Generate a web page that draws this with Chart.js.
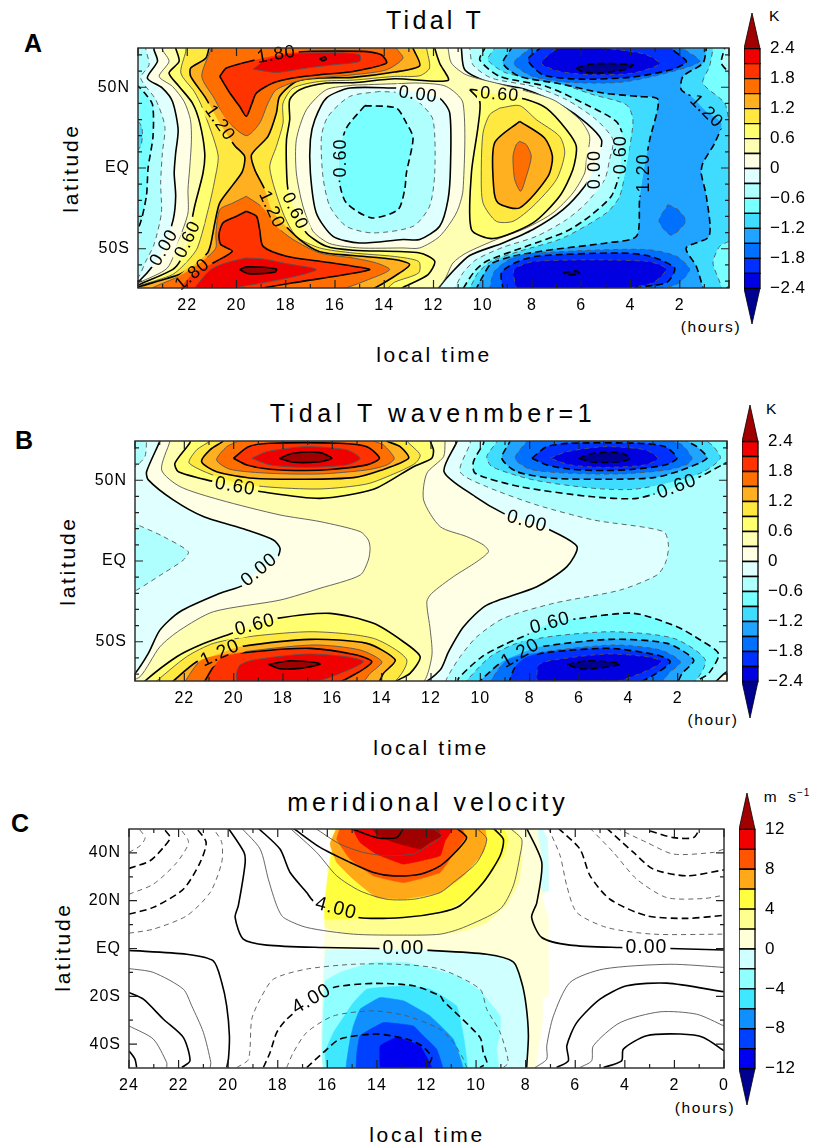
<!DOCTYPE html>
<html>
<head>
<meta charset="utf-8">
<title>Tidal T</title>
<script src="https://cdn.jsdelivr.net/npm/chart.js@4"></script>
<style>
body { margin: 0; background: #fff; width: 814px; height: 1148px; position: relative; overflow: hidden; font-family: "Liberation Sans", sans-serif; color: #000; }
canvas { position: absolute; }
.txt { position: absolute; transform: translate(-50%, -50%); white-space: nowrap; }
.title { font-size: 25px; letter-spacing: 3.3px; }
.axis { font-size: 21px; letter-spacing: 2.7px; }
.lat { transform: translate(-50%, -50%) rotate(-90deg); }
.tag { font-size: 25px; font-weight: bold; }
.unit { font-size: 15.5px; letter-spacing: 1.6px; }
sup { font-size: 10px; line-height: 0; }
</style>
</head>
<body>
<div class="txt tag" style="left:33px;top:43px">A</div>
<div class="txt tag" style="left:24px;top:440px">B</div>
<div class="txt tag" style="left:20px;top:823px">C</div>
<div class="txt title" style="left:435px;top:20px">Tidal T</div>
<div class="txt title" style="left:433px;top:413px;letter-spacing:4.6px">Tidal T wavenmber=1</div>
<div class="txt title" style="left:428px;top:802px;letter-spacing:4px">meridional velocity</div>
<div class="txt axis" style="left:434px;top:355px">local time</div>
<div class="txt axis" style="left:431px;top:748px">local time</div>
<div class="txt axis" style="left:427px;top:1135px">local time</div>
<div class="txt axis lat" style="left:71px;top:168px">latitude</div>
<div class="txt axis lat" style="left:68px;top:561px">latitude</div>
<div class="txt axis lat" style="left:63px;top:947px">latitude</div>
<div class="txt unit" style="left:711px;top:327px">(hours)</div>
<div class="txt unit" style="left:713px;top:720px">(hour)</div>
<div class="txt unit" style="left:705px;top:1108px">(hours)</div>
<div class="txt unit" style="left:775px;top:16px">K</div>
<div class="txt unit" style="left:772px;top:409px">K</div>
<div class="txt unit" style="left:787px;top:797px;letter-spacing:1px">m&nbsp;&nbsp;s<sup>−1</sup></div>
<canvas id="panelA"></canvas>
<canvas id="panelB"></canvas>
<canvas id="panelC"></canvas>
<canvas id="barA"></canvas>
<canvas id="barB"></canvas>
<canvas id="barC"></canvas>
<script>
// contours, every point is [local time (h), latitude (deg)]
// points past the frame (lat +-76, t -0.5 or 24.5) only close a region and get clipped

const tLevels = [-2.4,-2.1,-1.8,-1.5,-1.2,-0.9,-0.6,-0.3,0,0.3,0.6,0.9,1.2,1.5,1.8,2.1,2.4];
const tColors = ['#000090','#0000e0','#0030ff','#0070ff','#20a4ff','#40dcff','#78ffff','#b0ffff','#e0ffff','#ffffe6','#ffffb4','#ffff70','#ffe840','#ffb020','#ff6e00','#ff3300','#f00000','#a00000'];
const tBarLabels = {'2.4':'2.4','1.8':'1.8','1.2':'1.2','0.6':'0.6','0':'0','-0.6':'−0.6','-1.2':'−1.2','-1.8':'−1.8','-2.4':'−2.4'};
const vLevels = [-12,-10,-8,-6,-4,-2,0,2,4,6,8,10,12];
const vColors = ['#000090','#0000f0','#0040ff','#1090ff','#40e8ff','#90ffff','#d0ffff','#ffffd8','#ffff90','#ffff40','#ffa818','#ff5500','#f00000','#a00000'];
const vBarLabels = {'12':'12','8':'8','4':'4','0':'0','-4':'−4','-8':'−8','-12':'−12'};

const hoursAB = [22,20,18,16,14,12,10,8,6,4,2];
const hoursC = [24,22,20,18,16,14,12,10,8,6,4,2,0];
const latTicksAB = [50,0,-50];
const latNamesAB = {'50':'50N','0':'EQ','-50':'50S'};
const latTicksC = [40,20,0,-20,-40];
const latNamesC = {'40':'40N','20':'20N','0':'EQ','-20':'20S','-40':'40S'};

// panel A, warm side
const aZero = [[23.35,76],[23.35,73.2],[23.21,66],[23.62,55.7],[23.01,49.5],[22.6,41.2],[22.37,23.7],[22.47,9.3],[22.53,-3.1],[22.47,-17.5],[22.57,-32],[22.94,-49.5],[23.35,-59.8],[23.96,-70.1],[24.5,-76],[11.82,-76],[11.82,-74.8],[11.27,-64.9],[10.53,-54.2],[9.18,-46.4],[7.96,-38.1],[6.74,-25.8],[5.86,-11.3],[5.46,0],[5.25,9.3],[5.18,17.5],[5.79,27.8],[6.74,38.1],[8.23,48.5],[9.85,53.6],[10.73,60.8],[10.87,74.3],[10.87,76]];
const aP03 = [[23.01,76],[23.01,73.2],[22.74,66],[23.14,56.7],[22.6,50.5],[22.13,41.2],[21.87,29.9],[21.83,17.5],[21.9,0],[21.97,-13.4],[21.97,-27.8],[22.33,-44.3],[22.81,-61.9],[23.96,-71.1],[24.5,-76],[12.02,-76],[11.55,-69.1],[11.21,-58.8],[10.67,-52.6],[9.45,-44.3],[8.23,-37.1],[7.15,-27.8],[6.34,-15.5],[5.86,-3.1],[5.79,5.2],[5.66,19.6],[6.06,29.9],[7.15,42.3],[9.18,51.5],[10.67,57.7],[11.27,64.9],[11.41,74.3],[11.41,76]];
const aHole03 = [[15.27,51.3],[16.35,48.5],[17.16,36.1],[17.57,17.5],[17.57,-3.1],[17.3,-23.7],[16.89,-39.2],[16.21,-46.8],[15,-49.5],[13.24,-49.5],[12.56,-49.5],[11.75,-42.3],[11.07,-27.8],[10.8,-13.4],[10.8,40.2],[11.48,50.5],[12.56,52.6],[13.51,52.2]];
const aP06 = [[22.47,76],[22.47,74.2],[22.33,66],[22.74,58.8],[22.33,50.5],[21.79,40.2],[21.49,27.8],[21.29,9.3],[21.36,-3.1],[21.7,-23.7],[21.99,-45.4],[22.26,-56.7],[22.6,-62.9],[23.89,-71.8],[24.5,-76],[13.51,-76],[13.17,-73.4],[12.22,-66],[11.95,-57.7],[12.56,-52.6],[15.27,-50.9],[16.35,-48.5],[17.16,-40.2],[17.64,-26.8],[17.91,-13.4],[17.97,0],[17.97,17.5],[17.84,29.9],[17.84,42.3],[17.43,48.5],[16.35,52.6],[15.27,52.8],[13.58,55.3],[11.41,54.2],[11.75,64.9],[11.95,74.2],[11.95,76]];
const aP06Blob = [[10.53,48.5],[10.12,41.2],[10.19,25.8],[10.46,-3.1],[10.46,-38.1],[9.58,-43.7],[7.96,-34],[6.88,-17.5],[6.34,-1],[6.2,13.4],[6.6,23.7],[7.42,37.1],[8.3,42.7],[9.31,45.4],[10.33,48.5]];
const aP09 = [[22.06,76],[22.06,72.2],[22.26,58.8],[21.72,47.4],[21.38,37.1],[20.75,8.2],[20.88,-7.2],[21.15,-25.8],[21.59,-49.5],[22.06,-58.8],[22.6,-66],[23.89,-72.6],[24.5,-76],[14.05,-76],[13.58,-70.7],[12.6,-64.9],[12.6,-57.9],[13.58,-54.8],[15.27,-52.6],[16.62,-49.5],[17.57,-42.3],[18.11,-27.8],[18.65,0],[18.38,13.4],[18.11,27.8],[18.11,40.2],[17.7,49.5],[16.62,53.6],[15.27,54.4],[13.58,56.7],[12.56,57.1],[12.16,61.9],[12.28,74.2],[12.28,76]];
const aP09Blob = [[9.31,37.1],[8.5,38.6],[7.82,29.9],[6.88,19.6],[6.67,9.3],[7.01,-7.2],[7.96,-23.7],[8.77,-33],[9.45,-33],[9.99,-21.6],[10.06,-3.1],[9.99,21.6],[9.72,33]];
const aP12 = [[21.09,76],[21.25,68],[21.86,61.9],[21.86,56.7],[21.25,43.3],[20.68,27.8],[20.07,13.8],[19.67,7.2],[19.76,-2.1],[20.14,-10.3],[20.68,-21.6],[20.88,-34],[21.05,-47.4],[21.18,-52.6],[21.79,-60.8],[22.33,-66],[23.89,-73.2],[24.5,-76],[14.73,-76],[13.58,-67],[12.97,-59.8],[13.58,-56.7],[15.27,-54.2],[16.62,-51.8],[17.43,-44.3],[18.25,-32],[18.58,-25.8],[18.85,-13.4],[19.26,-1],[19.39,8.2],[18.72,19.6],[18.38,34],[18.25,44.3],[17.57,53.6],[16.62,55.7],[15.27,56.1],[13.58,59.4],[12.56,63.3],[12.83,74.2],[12.83,76]];
const aP12Blob = [[8.5,28.9],[7.49,18.6],[7.17,7.2],[7.35,-5.2],[8.5,-24.7],[9.38,-21.6],[9.56,-11.3],[9.52,15.5]];
const aP15Top = [[21.05,76],[21.05,73.2],[21.41,56.7],[20.91,43.3],[20.41,29.9],[19.6,20],[19.06,27.8],[18.72,40.2],[18.38,48.5],[17.3,54.6],[15.27,57.7],[13.91,60.8],[13.24,68],[13.51,74.2],[13.51,76]];
const aP15Bottom = [[19.6,-17.5],[20.14,-21.6],[20.68,-25.8],[20.84,-41.2],[20.84,-49.5],[21.38,-57.7],[22.33,-67],[23.41,-74.2],[23.41,-76],[16.08,-76],[14.46,-68],[13.78,-62.9],[14.32,-58.8],[15.27,-55.7],[16.62,-52.6],[17.7,-44.3],[18.38,-36.1],[18.92,-24.7]];
const aP15Blob = [[8.5,16.5],[8.23,14.4],[8.03,7.2],[8.23,-5.2],[8.46,-14.4],[8.7,-7.2],[8.77,7.2],[8.64,14.4]];
const aP18Top = [[20.68,56.7],[20.41,61.9],[19.33,66.6],[17.7,71.5],[14.86,72.2],[14.12,70.1],[13.91,64.9],[15.27,59.8],[16.62,57.7],[17.7,55.7],[18.52,52.6],[19.19,46.4],[19.39,39.2],[19.6,32],[19.87,38.1],[20.27,46.4]];
const aP18Bottom = [[19.6,-26.8],[19.19,-29.9],[19.06,-38.1],[18.92,-48.5],[17.97,-54.6],[16.62,-57.7],[15.27,-60.8],[14.59,-62.9],[15.81,-66.6],[17.7,-71.1],[19.06,-74.8],[19.06,-76],[22.3,-76],[22.3,-74.8],[22.17,-72.2],[21.79,-66],[20.82,-57.7],[20.17,-51.5],[20.64,-47.4],[20.71,-41.2],[20.55,-34],[20,-29.9]];
const aP21Top = [[19.33,61.2],[18.38,59.2],[17.16,61.9],[16.08,63.9],[15,66],[15,70.1],[16.08,71.5],[17.7,70.7],[18.79,67]];
const aP21Bottom = [[19.63,-55.7],[18.92,-56.3],[17.97,-59.2],[16.76,-62.9],[17.7,-67.4],[18.92,-71.1],[20,-74.2],[20,-76],[21.72,-76],[21.72,-74.8],[21.05,-62.9],[20.44,-58.8]];
const aP24Top = [[16.62,67.6],[16.42,68.7],[16.35,67.4],[16.51,66.4]];
const aP24Bottom = [[19.87,-62.9],[19.6,-61.2],[18.38,-62.5],[18.45,-64.5],[19.53,-65.4]];

// panel A, cold side
const aHole0 = [[13.51,49.5],[15.4,49.5],[16.35,43.3],[16.82,29.9],[17,17.5],[17,-3.1],[16.76,-27.8],[16.08,-42.3],[15,-46.4],[13.24,-44.3],[12.56,-44.3],[11.75,-36.1],[11.41,-19.6],[11.31,1],[11.34,34],[11.75,43.3],[12.56,46.4]];
const aHoleM03 = [[14.19,47.4],[15.4,44.3],[16.28,32],[16.55,19.6],[16.49,-5.2],[16.21,-23.7],[15.54,-36.1],[14.46,-40.2],[12.83,-36.1],[12.16,-23.7],[11.95,-3.1],[12.02,29.9],[12.56,40.2],[13.37,46.4]];
const aHoleM06 = [[14.79,38.6],[13.51,37.1],[13.1,27.8],[12.83,18.6],[13.1,-3.1],[13.17,-13.4],[13.44,-25.8],[14.52,-30.9],[15.54,-21.6],[15.81,-9.3],[15.81,9.3],[15.54,24.7]];
const aM03 = [[10.53,76],[10.53,74.2],[10.4,63.9],[9.65,55.7],[7.96,50.5],[6.6,42.3],[5.39,29.9],[4.71,17.5],[4.85,5.2],[5.05,-7.2],[5.79,-21.6],[6.6,-32],[7.82,-42.3],[9.18,-49.1],[10.26,-56.7],[10.8,-64.9],[11.14,-74.8],[11.14,-76],[-0.5,-76],[-0.5,76]];
const aM06 = [[9.92,76],[9.92,74.2],[10.12,67],[9.31,56.7],[7.42,50.5],[5.79,39.2],[4.58,28.9],[4.31,19.6],[4.37,8.2],[4.44,-3.1],[4.78,-17.5],[5.66,-29.9],[6.6,-39.2],[8.23,-48.5],[9.85,-57.7],[10.33,-63.9],[10.8,-74.8],[10.8,-76],[0.18,-76],[0.18,-74.8],[-0.5,-70],[-0.5,0],[-0.09,56.7],[0.31,64.9],[0.18,74.2],[0.18,76]];
const aM09 = [[9.52,76],[9.52,74.2],[9.79,67],[9.04,58.8],[7.15,53.6],[5.52,45.4],[4.17,39.2],[3.9,29.9],[4.1,7.2],[4.44,-17.5],[4.98,-27.8],[6.74,-43.3],[8.5,-51.5],[9.65,-57.7],[10.19,-64.9],[10.53,-74.8],[10.53,-76],[0.38,-76],[0.65,-58.8],[0.38,-48.5],[-0.09,-44.3],[-0.5,-30],[-0.5,30],[-0.09,25.8],[0.18,40.2],[1.06,52.6],[0.79,62.9],[0.65,74.2],[0.65,76]];
const aM12 = [[8.84,76],[8.84,74.2],[9.18,64.9],[8.5,56.7],[6.88,52.2],[5.12,46.4],[3.7,44.3],[2.88,42.3],[3.22,17.5],[3.47,-3.1],[3.63,-19.6],[3.76,-42.3],[4.98,-46.4],[7.15,-50.5],[8.77,-54.6],[9.65,-59.2],[9.92,-64.9],[10.26,-74.8],[10.26,-76],[1.06,-76],[1.06,-74.2],[1.33,-60.8],[1.74,-49.5],[0.81,-42.3],[0.92,-17.5],[1.13,-3.1],[1.06,3.1],[0.58,15.5],[0.31,27.8],[0.92,35],[1.53,44.3],[1.94,48.5],[1.87,56.7],[1.06,64.9],[0.92,74.2],[0.92,76]];
const aM15Top = [[8.09,76],[8.09,74.2],[8.74,64.9],[7.96,56.7],[6.47,53],[4.44,53],[2.82,57.7],[1.19,66],[1.87,74.2],[1.87,76]];
const aM18Top = [[7.69,76],[7.69,74.2],[8.16,67],[7.55,57.7],[6.06,55],[3.9,56.3],[2.28,61.2],[1.73,66],[2.28,73.2],[2.28,76]];
const aM21Top = [[6.74,76],[7.15,72.2],[7.62,64.9],[6.88,59.8],[5.52,57.7],[3.9,58.8],[2.82,64.5],[3.36,70.1],[4.44,73.2],[4.98,74.2],[4.98,76]];
const aM24Top = [[6.2,61.9],[5.52,64.5],[3.9,63.9],[4.17,61.2],[5.25,58.8],[5.93,59.4]];
const aM15Bottom = [[9.72,-76],[9.72,-74.8],[9.52,-63.9],[8.64,-54.6],[6.47,-51.5],[3.36,-50.5],[2.14,-54.6],[1.6,-62.9],[2.14,-72.2],[3.09,-74.8],[3.09,-76]];
const aM18Bottom = [[9.18,-76],[9.18,-74.8],[9.24,-64.9],[8.7,-58.8],[7.82,-54.6],[4.44,-52.6],[3.22,-54.6],[2.21,-61.9],[2.55,-71.1],[4.44,-74.8],[4.44,-76]];
const aM21Bottom = [[8.64,-76],[8.64,-74.8],[8.73,-62.9],[7.82,-57.7],[3.36,-57.7],[2.55,-62.5],[3.09,-71.1],[4.17,-74.8],[4.17,-76]];
const aM24Bottom = [[6.74,-64.9],[6.2,-63.7],[6.07,-65.6],[6.54,-66.2]];
const aM15Patch = [[2.48,-22.7],[2.07,-25.8],[1.76,-33],[2.34,-41.6],[2.84,-33]];
const aM03Left = [[23.68,76],[23.68,73.2],[23.55,63.9],[23.89,55.7],[23.28,42.3],[22.91,25.8],[23.01,9.3],[23.08,-9.3],[23.05,-27.8],[23.35,-47.4],[23.68,-57.7],[23.96,-67],[24.5,-76],[24.5,76]];
const aM06Left = [[24.5,55],[24.06,51.5],[23.73,46.4],[23.41,39.2],[23.39,19.6],[23.59,0],[23.66,-17.5],[23.96,-36.1],[24.5,-45]];
const aM09Left = [[24.5,37],[23.86,25.8],[23.9,13.4],[24.5,5]];

// panel B
const bM03 = [[10.41,76],[10.41,72.9],[10.82,55.3],[9.74,46],[7.71,34.7],[5.41,25.4],[2.57,18.2],[2.37,8.9],[2.5,-1.4],[2.84,-8.7],[4.33,-18],[7.03,-26.2],[9.06,-35.5],[10.14,-46.9],[10.82,-59.3],[11.36,-72.7],[11.36,-76],[-0.5,-76],[-0.5,76]];
const bM03Left = [[24.5,26],[23.73,21.3],[22.85,15.1],[21.84,5.8],[22.04,0.6],[22.85,-7.6],[23.93,-18],[24.5,-22]];
const bM03Corner = [[24.5,57],[24,58.4],[23.6,64.6],[23.53,74.3],[23.53,76],[24.5,76]];
const bM06Top = [[9.87,76],[9.87,72.9],[10.28,61.5],[10.21,54.3],[8.38,46],[5.54,39.9],[3.65,38.8],[2.1,46],[1.08,52.3],[0.07,60.5],[-0.5,64],[-0.5,76]];
const bM09Top = [[9.33,76],[9.33,73.9],[9.74,64.6],[9.53,58.4],[7.84,50.2],[5.41,45],[3.79,44.4],[2.16,49.2],[0.95,55.3],[0.27,63.6],[0.54,70.8],[0.81,74.3],[0.81,76]];
const bM12Top = [[8.79,76],[8.79,74.3],[9.13,63.6],[8.52,55.3],[7.03,51.2],[4.94,50.6],[2.97,51.6],[1.89,56],[0.81,63.6],[1.22,70.8],[1.62,74.3],[1.62,76]];
const bM15Top = [[8.11,76],[8.11,74.3],[8.59,63.6],[7.98,56.8],[6.35,54.3],[4.33,53.9],[2.43,56.4],[1.62,59.9],[1.42,63.6],[1.82,71.9],[2.23,74.3],[2.23,76]];
const bM18Top = [[7.91,63.6],[7.3,70.8],[6.35,72.9],[3.65,72.9],[2.5,70.8],[2.03,63.6],[2.5,59.5],[3.79,56.8],[4.94,56],[6.35,56.8],[7.3,59.5]];
const bM21Top = [[7.17,63.6],[6.49,67.7],[4.94,70.8],[3.31,68.8],[2.81,63.6],[3.31,59.5],[4.94,58],[6.35,59.5]];
const bM24Top = [[6.02,63.6],[5.41,66.7],[4.33,67.1],[3.92,63.6],[4.33,61.5],[5.41,61.1]];
const bM06Bottom = [[10.89,-76],[10.89,-72.7],[9.94,-59.3],[9.06,-52],[7.98,-44.8],[7.17,-38.6],[5.95,-35.5],[3.79,-32.4],[2.03,-40.7],[1.08,-48.9],[0.34,-57.5],[0.74,-69.6],[1.22,-74.3],[1.22,-76]];
const bM09Bottom = [[10.68,-76],[9.6,-59.3],[8.52,-51],[7.03,-46.5],[4.6,-43.8],[2.16,-47.9],[0.88,-61.3],[1.49,-76]];
const bM12Bottom = [[10.14,-76],[9.13,-62.4],[8.38,-57.2],[7.57,-53.1],[4.73,-48.5],[2.43,-51],[1.35,-61.3],[1.82,-69.6],[2.1,-76]];
const bM15Bottom = [[9.67,-76],[8.92,-61.3],[7.71,-56.8],[4.6,-52],[2.7,-55.1],[1.89,-62.4],[2.37,-69.6],[2.77,-76]];
const bM18Bottom = [[8.86,-76],[8.59,-65.5],[8.11,-59.3],[7.03,-56.2],[4.73,-54.1],[2.84,-58.2],[2.3,-62.4],[2.97,-70.6],[3.79,-76]];
const bM21Bottom = [[7.71,-76],[7.64,-64.4],[7.03,-61.3],[4.87,-57.6],[3.24,-59.3],[2.64,-62.4],[3.51,-69.6],[4.87,-76]];
const bM24Bottom = [[6.49,-64],[5.68,-61.8],[4.46,-63],[4.33,-64],[5.27,-66.5],[5.95,-66.7]];
const bZero = [[22.99,76],[22.99,74.3],[23.53,55.3],[23.46,50.2],[22.45,37.8],[21.23,27.5],[19.47,19.2],[18.39,13],[18.12,7.8],[18.25,1.7],[18.96,-5.6],[19.61,-14.9],[20.55,-20],[22.18,-31.4],[22.99,-42.8],[23.46,-57.2],[24,-69.6],[24.5,-76],[12.44,-76],[11.63,-67.5],[11.29,-56.2],[10.68,-40.7],[9.74,-27.3],[7.71,-15.9],[6.49,-3.5],[6.08,8.9],[7.17,19.2],[8.11,24.4],[9.06,29.5],[10.21,39.9],[11.47,55.3],[10.95,73.9],[10.95,76]];
const bP03 = [[22.58,76],[22.58,74.3],[22.92,56.4],[22.18,46.1],[20.55,37.8],[18.12,28.5],[16.5,24.4],[14.87,18.2],[14.54,13],[14.47,7.8],[14.54,0.6],[14.87,-8.7],[16.5,-16.9],[18.12,-24.2],[20.82,-31.4],[22.18,-42.8],[22.99,-53.1],[23.8,-71.7],[24.5,-76],[12.44,-76],[11.97,-59.3],[12.03,-42.8],[12.17,-25.2],[11.97,-20],[11.09,-9.7],[10.14,-0.4],[9.67,5.8],[9.87,9.9],[10.55,15.1],[11.63,21.3],[12.3,37.8],[12.17,54.3],[11.49,64.6],[11.43,73.9],[11.43,76]];
const bP06Top = [[21.77,76],[21.77,73.3],[22.38,60.5],[22.24,55.3],[20.82,49.2],[19.94,46.1],[18.93,43],[16.5,38.8],[14.33,44.4],[12.71,58.4],[11.97,63.6],[11.9,68.8],[12.03,74.3],[12.03,76]];
const bP09Top = [[20.96,76],[20.96,74.3],[21.5,68.8],[21.8,60.5],[20.28,50.2],[18.8,46.1],[16.5,44.6],[14.6,47.7],[13.39,54.7],[12.64,60.5],[12.44,65.7],[12.98,74.3],[12.98,76]];
const bP12Top = [[20.42,76],[20.42,74.3],[20.96,68.8],[21.3,61.5],[20.69,55.3],[19.2,51.2],[17.1,50.6],[15.14,51.6],[14.06,56],[12.91,63.6],[13.25,70.8],[13.79,74.3],[13.79,76]];
const bP15Top = [[19.81,76],[19.81,74.3],[20.28,70.8],[20.69,62.6],[20.15,56.8],[18.53,54.3],[16.5,53.9],[14.6,56.4],[13.79,59.5],[13.49,63.6],[13.93,71.9],[14.33,74.3],[14.33,76]];
const bP18Top = [[20.01,63.6],[19.4,70.8],[18.53,72.9],[15.69,72.9],[14.6,70.8],[14.09,63.6],[14.6,59.5],[15.96,56.8],[17.1,56],[18.53,56.8],[19.47,59.5]];
const bP21Top = [[19.27,63.6],[18.66,67.7],[17.1,70.8],[15.42,68.8],[14.87,63.6],[15.42,59.5],[17.1,58],[18.53,59.5]];
const bP24Top = [[18.15,63.6],[17.58,66.7],[16.5,67.1],[16.02,63.6],[16.5,61.5],[17.58,61.1]];
const bP06Bottom = [[23.6,-76],[23.6,-74.3],[22.31,-59.3],[21.36,-52],[20.15,-45.2],[19.13,-39.7],[18.25,-35.5],[16.09,-32.4],[14.33,-38.6],[13.12,-50],[12.44,-59.3],[12.85,-69.6],[13.39,-74.3],[13.39,-76]];
const bP09Bottom = [[23.26,-76],[21.91,-59.3],[20.82,-51],[19.2,-46.5],[16.77,-43.8],[14.33,-47.9],[12.98,-61.3],[13.66,-76]];
const bP12Bottom = [[22.58,-76],[21.5,-62.4],[20.55,-57.2],[19.74,-53.1],[16.9,-48.5],[14.6,-51],[13.45,-61.3],[13.93,-69.6],[14.2,-76]];
const bP15Bottom = [[22.04,-76],[21.3,-61.3],[19.88,-56.8],[16.77,-52],[14.87,-55.1],[13.99,-62.4],[14.47,-69.6],[14.87,-76]];
const bP18Bottom = [[21.23,-76],[20.82,-65.5],[20.42,-59.3],[19.2,-56.2],[16.9,-54.1],[15.01,-58.2],[14.4,-62.4],[15.14,-70.6],[15.96,-76]];
const bP21Bottom = [[19.88,-76],[19.88,-69.6],[19.74,-64.4],[19.2,-61.3],[17.04,-57.6],[15.42,-59.3],[14.74,-62.4],[15.69,-69.6],[17.04,-76]];
const bP24Bottom = [[18.59,-64],[17.71,-61.8],[16.63,-63],[16.5,-64],[17.31,-66.5],[18.12,-66.7]];
const bCornerWarm = [[0.54,-76],[0,-68.6],[-0.5,-68],[-0.5,-76]];

// panel C shading (only exists between about 16h and 7h)
const cShadeCream = [[15.89,52],[15.89,43],[16.09,8],[16.09,-52],[7.69,-52],[7.49,-42.1],[7.31,-29.6],[7.31,-20.5],[7.08,-19.8],[7.08,0.4],[7.08,12.3],[7.35,22],[7.08,24.8],[7.12,45.7],[7.42,52]];
const cShadeCyanBit = [[7.42,52],[7.12,45.7],[7.08,24.1],[7.35,24.1],[7.35,38.8],[7.49,47.1],[7.49,52]];
const cShadeM0 = [[16.09,-0.6],[12.26,-0.6],[9.57,-2.4],[8.5,-5.6],[8.16,-14.2],[7.98,-24],[7.89,-36.5],[7.96,-49.8],[7.96,-52],[16.09,-52]];
const cShadeP2 = [[15.62,52],[15.62,49.9],[15.82,41.6],[15.96,33.2],[16.09,19.2],[16.09,8.8],[14.95,6],[12.93,5.6],[11.45,6],[10.51,7.4],[9.57,10.9],[8.76,18.5],[8.29,27.6],[8.16,36],[8.16,45.7],[8.63,52]];
const cShadeP4 = [[15.69,52],[15.69,47.8],[15.89,36],[16.09,20.6],[16.09,12.3],[14.95,12.7],[12.93,13],[11.45,15.1],[10.51,19.9],[9.57,29],[8.9,38.8],[8.7,45.7],[9.03,52]];
const cShadeP6 = [[15.55,52],[15.89,43.7],[15.62,36],[14.95,29],[14.01,21.3],[12.93,20.6],[11.45,23.4],[10.51,30.4],[9.71,40.2],[9.57,45.7],[9.71,52]];
const cShadeP8 = [[15.42,52],[15.62,45.7],[15.08,37.4],[14.14,30.4],[12.93,27.6],[11.45,31.8],[10.78,41.6],[10.44,46.4],[10.65,52]];
const cShadeP10 = [[15.08,52],[14.68,44.4],[14.01,39.5],[12.93,35.3],[11.45,38.8],[11.25,45],[10.85,52]];
const cShadeP12 = [[14.34,52],[13.94,47.1],[13.2,44.1],[12.26,41.6],[11.86,44.4],[11.39,47.1],[11.72,52]];
const cShadeM2 = [[16.09,-13.5],[15.49,-10],[14.14,-5.9],[12.8,-5.9],[12.26,-7.3],[10.78,-11.4],[9.84,-17.7],[9.03,-28.2],[9.03,-35.1],[9.17,-42.1],[9.1,-52],[16.09,-52]];
const cShadeM4 = [[15.22,-26.8],[14.95,-22.6],[14.41,-17],[12.8,-15.6],[11.86,-17],[10.78,-24],[10.51,-36.5],[10.38,-52],[15.96,-52],[16.09,-43.5],[15.75,-35.1]];
const cShadeM6 = [[15.08,-37.9],[14.95,-32.4],[14.68,-25.4],[13.87,-20.5],[12.93,-21.9],[11.86,-28.2],[10.92,-37.9],[10.51,-52],[15.22,-52]];
const cShadeM8 = [[14.81,-43.5],[14.68,-36.5],[13.74,-31],[12.53,-32.4],[12.13,-36.5],[11.59,-42.1],[11.32,-52],[14.81,-52]];
const cShadeM10 = [[13.87,-52],[13.87,-40.7],[13.2,-37.2],[12.26,-40.7],[11.72,-52]];

// panel C contour lines
const cZeroA = [[19.99,50.3],[19.36,40.2],[19.32,35.3],[19.59,17.9],[19.72,13],[19.39,3.9],[18.44,1.4],[16.16,0.4],[13.94,0],[11.86,-0.8],[9.57,-2.4],[8.5,-5.6],[8.16,-14.2],[7.98,-24],[7.89,-36.5],[7.96,-49.8]];
const cZeroB = [[24,-0.8],[21.67,-2.4],[20.6,-5.2],[20.26,-14.2],[20.06,-24],[19.95,-36.5],[19.99,-46.3],[20.06,-49.8]];
const cZeroC = [[7.96,50.3],[7.35,36],[7.55,19.2],[7.76,13],[7.35,4.6],[6.21,1.4],[4.19,0.4],[2.18,0],[0,-0.6]];
const cPos2 = [[19.45,50.3],[18.71,41.6],[18.38,29],[18.04,17.9],[17.77,13],[16.83,8.8],[14.95,6],[12.93,5.6],[11.45,6],[10.51,8.8],[9.03,16.5],[8.5,26.2],[8.23,38.8],[8.16,45.7],[8.63,50.3]];
const cPos4 = [[18.78,50.3],[17.91,41.6],[17.5,31.8],[16.83,23.4],[16.56,19.9],[15.65,16.7],[14.75,13],[12.93,13],[11.45,15.1],[10.65,17.9],[9.71,27.6],[9.03,38.8],[8.9,45.7],[9.3,50.3]];
const cPos6 = [[17.5,50.3],[16.43,40.2],[15.62,30.4],[14.68,24.1],[13.6,20.6],[12.53,20.6],[11.45,23.4],[10.92,27.6],[9.97,36],[9.57,45.7],[9.97,50.3]];
const cPos8 = [[17.37,50.3],[16.29,42.3],[15.08,36],[14.14,31.8],[13.33,30.4],[12.26,31.1],[11.45,34.6],[10.78,40.9],[10.38,46.4],[10.78,50.3]];
const cPos10 = [[16.49,50.3],[15.49,43.7],[14.54,40.2],[13.6,38.8],[12.53,39.5],[12.26,40.9],[11.39,47.1],[11.72,50.3]];
const cPos12 = [[15.08,50.3],[14.01,46.4],[13.2,46.4],[12.93,50.3]];
const cNeg2 = [[19.65,-49.8],[19.18,-46.3],[19.05,-29.6],[18.71,-21.2],[18.17,-12.8],[16.83,-8.6],[14.95,-6.6],[13.2,-6.6],[11.45,-8.6],[9.84,-17],[9.57,-25.4],[9.03,-35.1],[8.7,-47.7],[8.9,-49.8]];
const cNeg4 = [[18.58,-49.8],[18.31,-43.5],[18.04,-35.1],[17.64,-29.6],[16.63,-21.2],[15.75,-16.3],[14.14,-14.6],[12.53,-15.6],[11.45,-19.8],[11.32,-21.9],[9.84,-37.2],[9.71,-43.5],[9.57,-47.7],[9.84,-49.8]];
const cNeg6 = [[17.64,-49.8],[17.37,-43.5],[16.83,-35.1],[15.75,-28.2],[14.14,-26.1],[12.8,-28.2],[11.45,-33.8],[10.92,-39.3],[10.51,-46.3],[10.38,-49.8]];
const cNeg8 = [[16.83,-49.8],[16.16,-43.5],[15.49,-37.9],[14.01,-35.8],[12.8,-37.9],[12.19,-40.7],[11.79,-45.6],[11.99,-49.8]];
const cLowPos2 = [[7.62,-49.8],[7.15,-46.3],[7.15,-40.7],[6.88,-28.2],[6.21,-14.2],[4.86,-8.6],[2.18,-6.6],[0,-7.9]];
const cLowPos4 = [[6.75,-49.8],[6.28,-47],[6.34,-40.7],[5.94,-31],[5,-21.2],[3.92,-15.6],[2.31,-14.5],[0,-18.1]];
const cLowPos6 = [[5.81,-49.8],[5.34,-47],[5.27,-40.7],[4.19,-31],[2.58,-26.5],[1.1,-27.5],[0,-32.4]];
const cLowPos8 = [[4.86,-49.8],[4.13,-47],[4.06,-42.1],[3.12,-36.5],[1.77,-35.8],[0.83,-37.2],[0,-42.8]];
const cUpNeg2 = [[7.08,50.3],[6.61,38.8],[6.34,26.2],[5.94,15.1],[4.73,8.8],[2.85,6],[0,6]];
const cUpNeg4 = [[6.68,50.3],[5.81,41.6],[5.4,30.4],[4.6,20.6],[3.12,13.7],[1.5,12.6],[0,13.9]];
const cUpNeg6 = [[5.4,50.3],[4.46,40.2],[3.52,29],[2.31,21.3],[0.83,20.9],[0,22.3]];
const cUpNeg8 = [[4.73,50.3],[3.65,40.2],[2.85,33.2],[1.5,30.4],[0,32.9]];
const cUpNeg10 = [[4.33,50.3],[3.12,44.4],[2.04,39.5],[0.43,40.2],[0,41.6]];
const cUpNeg12 = [[2.98,49.2],[2.04,46.4],[1.23,46.4],[0.97,50.3]];
const cLeftNeg2 = [[24,6.4],[23.02,8.1],[21.67,13.7],[20.73,23.4],[20.26,36],[20.26,44.4],[20.6,50.3]];
const cLeftNeg4 = [[24,14.4],[23.02,17.2],[21.81,24.8],[21.13,36],[20.89,44.4],[21.27,50.3]];
const cLeftNeg6 = [[24,22.7],[23.02,26.9],[22.07,36],[21.6,44.4],[21.94,50.3]];
const cLeftNeg8 = [[24,33.5],[23.15,36.7],[22.61,42.3],[22.34,46.4],[22.61,50.3]];
const cLeftNeg10 = [[24,40.2],[23.55,43],[23.35,46.4],[23.62,50.3]];
const cLeftPos2 = [[24,-8.4],[23.02,-10],[21.81,-17],[21.47,-24],[21,-35.1],[20.7,-47.7],[20.73,-49.8]];
const cLeftPos4 = [[24,-18.4],[23.42,-21.2],[22.61,-29.6],[21.81,-37.2],[21.54,-47],[21.87,-49.8]];
const cLeftPos6 = [[24,-32.4],[23.02,-37.9],[22.48,-47.7],[22.48,-49.8]];
const cLeftPos8 = [[24,-42.8],[23.76,-46.3],[23.69,-49.8]];

// contour labels: local time, latitude, text, rotation in degrees
const aLabels = [[18.38,70.1,'1.80',-10],[20.68,27.8,'1.20',55],[15.74,6.2,'0.60',-90],[12.63,45.4,'0.00',8],[9.31,45.4,'0.60',5],[5.46,-1,'0.00',-90],[4.37,8.2,'0.60',-90],[3.47,-3.1,'1.20',-90],[0.92,35,'1.20',45],[18.58,-25.8,'1.20',65],[17.64,-26.8,'0.60',65],[22.94,-49.5,'0.00',-60],[21.97,-44.3,'0.60',-65],[21.79,-66,'1.80',-40]];
const bLabels = [[19.94,46.1,'0.60',10],[18.96,-5.6,'0.00',-40],[19.13,-39.7,'0.60',-15],[20.55,-57.2,'1.20',-25],[8.11,24.4,'0.00',15],[2.03,46,'0.60',-20],[7.17,-38.6,'0.60',-15],[8.38,-57.2,'1.20',-30]];
const cLabels = [[15.65,16.7,'4.00',15],[12.93,0,'0.00',0],[3.13,0.2,'0.00',0],[16.63,-21.2,'4.00',-30]];

// region: [points, level, band colour index if it differs from the level]
const aRegions = [
	[aM03,-0.3],[aM06,-0.6],[aM09,-0.9],[aM12,-1.2],[aM15Top,-1.5],[aM15Bottom,-1.5],[aM15Patch,-1.5],[aM18Top,-1.8],[aM18Bottom,-1.8],
	[aM21Top,-2.1],[aM21Bottom,-2.1],[aM24Top,-2.4],[aM24Bottom,-2.4],[aM03Left,-0.3],[aM06Left,-0.6],[aM09Left,-0.9],
	[aZero,0,9],[aP03,0.3],[aHole03,0.3,9],[aP06,0.6],[aP06Blob,0.6],[aP09,0.9],[aP09Blob,0.9],[aP12,1.2],[aP12Blob,1.2],
	[aP15Top,1.5],[aP15Bottom,1.5],[aP15Blob,1.5],[aP18Top,1.8],[aP18Bottom,1.8],[aP21Top,2.1],[aP21Bottom,2.1],[aP24Top,2.4],[aP24Bottom,2.4],
	[aHole0,0,8],[aHoleM03,-0.3],[aHoleM06,-0.6]
];
const bRegions = [
	[bM03,-0.3],[bM03Left,-0.3],[bM03Corner,-0.3],[bM06Top,-0.6],[bM06Bottom,-0.6],[bM09Top,-0.9],[bM09Bottom,-0.9],[bM12Top,-1.2],[bM12Bottom,-1.2],
	[bM15Top,-1.5],[bM15Bottom,-1.5],[bM18Top,-1.8],[bM18Bottom,-1.8],[bM21Top,-2.1],[bM21Bottom,-2.1],[bM24Top,-2.4],[bM24Bottom,-2.4],
	[bZero,0,9],[bP03,0.3],[bP06Top,0.6],[bP06Bottom,0.6],[bP09Top,0.9],[bP09Bottom,0.9],[bP12Top,1.2],[bP12Bottom,1.2],[bP15Top,1.5],[bP15Bottom,1.5],
	[bP18Top,1.8],[bP18Bottom,1.8],[bP21Top,2.1],[bP21Bottom,2.1],[bP24Top,2.4],[bP24Bottom,2.4],[bCornerWarm,0,9]
];
// shade: [points, colour index in vColors]
const cShades = [[cShadeCream,7],[cShadeCyanBit,6],[cShadeM0,6],[cShadeP2,8],[cShadeP4,9],[cShadeP6,10],[cShadeP8,11],[cShadeP10,12],[cShadeP12,13],[cShadeM2,5],[cShadeM4,4],[cShadeM6,3],[cShadeM8,2],[cShadeM10,1]];
// line: [points, thick?, dashed?]
const cLines = [
	[cZeroA,1,0],[cZeroB,1,0],[cZeroC,1,0],[cPos2,0,0],[cPos4,1,0],[cPos6,0,0],[cPos8,1,0],[cPos10,0,0],[cPos12,1,0],
	[cNeg2,0,1],[cNeg4,1,1],[cNeg6,0,1],[cNeg8,1,1],[cLowPos2,0,0],[cLowPos4,1,0],[cLowPos6,0,0],[cLowPos8,1,0],
	[cUpNeg2,0,1],[cUpNeg4,1,1],[cUpNeg6,0,1],[cUpNeg8,1,1],[cUpNeg10,0,1],[cUpNeg12,1,1],
	[cLeftNeg2,0,1],[cLeftNeg4,1,1],[cLeftNeg6,0,1],[cLeftNeg8,1,1],[cLeftNeg10,0,1],
	[cLeftPos2,0,0],[cLeftPos4,1,0],[cLeftPos6,0,0],[cLeftPos8,1,0]
];

function toXY(pts){
	return pts.map(p => ({x: p[0], y: p[1]}));
}

function lineStyle(thick, dashed){
	return {
		borderColor: thick ? '#000' : '#555',
		borderWidth: thick ? 1.6 : 0.9,
		borderDash: dashed ? (thick ? [7,4] : [5,4]) : []
	};
}

function regionSet(row){
	const level = row[1];
	let idx = row[2];
	if (idx === undefined) idx = level > 0 ? 9 + Math.round(level / 0.3) : 8 + Math.round(level / 0.3);
	const thick = Math.round(level * 10) % 6 === 0;
	return Object.assign({
		data: toXY(row[0].concat([row[0][0]])),
		backgroundColor: tColors[idx],
		fill: 'shape', isLine: true
	}, lineStyle(thick, level < 0));
}

function shadeSet(row){
	return {
		data: toXY(row[0].concat([row[0][0]])),
		backgroundColor: vColors[row[1]],
		borderColor: vColors[row[1]],
		borderWidth: 0.5,
		fill: 'shape', tension: 0.1
	};
}

function contourSet(row){
	return Object.assign({data: toXY(row[0]), fill: false, isLine: true}, lineStyle(row[1], row[2]));
}

// rotated box round each contour label, lines are cut there and the shading is not
function labelPath(chart, ctx){
	const opt = chart.options.plugins.panel;
	ctx.font = opt.labelFont;
	opt.labels.forEach(l => {
		const px = chart.scales.x.getPixelForValue(l[0]);
		const py = chart.scales.y.getPixelForValue(l[1]);
		const w = ctx.measureText(l[2]).width / 2 + 3, h = opt.labelBox;
		const a = l[3] * Math.PI / 180, c = Math.cos(a), s = Math.sin(a);
		[[-w,-h],[w,-h],[w,h],[-w,h]].forEach((q, i) => {
			const qx = px + q[0] * c - q[1] * s, qy = py + q[0] * s + q[1] * c;
			if (i === 0) ctx.moveTo(qx, qy); else ctx.lineTo(qx, qy);
		});
		ctx.closePath();
	});
}

const panelPlugin = {
	id: 'panel',
	beforeDraw(chart){
		chart.ctx.letterSpacing = '1px';
	},
	beforeDatasetsDraw(chart, args, opt){
		const a = chart.chartArea;
		chart.ctx.fillStyle = opt.base;
		chart.ctx.fillRect(a.left, a.top, a.width, a.height);
	},
	beforeDatasetDraw(chart, args){
		if (!chart.data.datasets[args.index].isLine) return;
		const ctx = chart.ctx;
		ctx.save();
		ctx.beginPath();
		ctx.rect(0, 0, chart.width, chart.height);
		labelPath(chart, ctx);
		ctx.clip('evenodd');
	},
	afterDatasetDraw(chart, args){
		if (chart.data.datasets[args.index].isLine) chart.ctx.restore();
	},
	afterDatasetsDraw(chart, args, opt){
		const ctx = chart.ctx, a = chart.chartArea, x = chart.scales.x, y = chart.scales.y;
		ctx.save();
		ctx.font = opt.labelFont;
		ctx.fillStyle = '#000';
		ctx.textAlign = 'center';
		ctx.textBaseline = 'middle';
		opt.labels.forEach(l => {
			ctx.save();
			ctx.translate(x.getPixelForValue(l[0]), y.getPixelForValue(l[1]));
			ctx.rotate(l[3] * Math.PI / 180);
			ctx.fillText(l[2], 0, 0);
			ctx.restore();
		});
		ctx.strokeStyle = '#333';
		ctx.lineWidth = 1.5;
		ctx.strokeRect(a.left, a.top, a.width, a.height);
		ctx.lineWidth = 1.2;
		ctx.strokeStyle = '#222';
		ctx.beginPath();
		for (let h = 0; h <= 24; h++){
			const px = x.getPixelForValue(h), len = h % 2 === 0 ? 8 : 4;
			ctx.moveTo(px, a.bottom); ctx.lineTo(px, a.bottom - len);
			ctx.moveTo(px, a.top); ctx.lineTo(px, a.top + len);
		}
		opt.latMinor.forEach(v => {
			const py = y.getPixelForValue(v), len = opt.latMajor.includes(v) ? 8 : 4;
			ctx.moveTo(a.left, py); ctx.lineTo(a.left + len, py);
			ctx.moveTo(a.right, py); ctx.lineTo(a.right - len, py);
		});
		ctx.stroke();
		ctx.restore();
	}
};

function makePanel(id, cfg){
	const canvas = document.getElementById(id);
	const pad = 6, below = 34;
	canvas.width = cfg.right + pad;
	canvas.height = cfg.bottom - cfg.top + pad + below;
	canvas.style.left = '0px';
	canvas.style.top = (cfg.top - pad) + 'px';
	new Chart(canvas, {
		type: 'scatter',
		data: {datasets: cfg.sets.slice().reverse()},
		options: {
			responsive: false, animation: false, events: [],
			layout: {padding: {top: pad, right: pad, left: 0, bottom: 0}},
			datasets: {scatter: {showLine: true, pointRadius: 0, tension: 0.25, capBezierPoints: false, clip: 0, borderJoinStyle: 'round'}},
			scales: {
				x: {
					type: 'linear', min: 0, max: 24, reverse: true,
					grid: {display: false, drawTicks: false}, border: {display: false},
					ticks: {padding: 8, autoSkip: false, maxRotation: 0, color: '#000', font: {family: 'Liberation Sans', size: 16}, callback: v => String(v)},
					afterBuildTicks: s => { s.ticks = cfg.hours.map(v => ({value: v})); },
					afterFit: s => { s.height = below; s.paddingLeft = 0; s.paddingRight = 0; }
				},
				y: {
					type: 'linear', min: cfg.latMin, max: cfg.latMax,
					grid: {display: false, drawTicks: false}, border: {display: false},
					ticks: {padding: 8, autoSkip: false, color: '#000', font: {family: 'Liberation Sans', size: 16}, callback: v => cfg.latNames[String(v)] || ''},
					afterBuildTicks: s => { s.ticks = cfg.latTicks.map(v => ({value: v})); },
					afterFit: s => { s.width = cfg.left; s.paddingTop = 0; s.paddingBottom = 0; }
				}
			},
			plugins: {
				legend: {display: false}, tooltip: {enabled: false},
				panel: {base: cfg.base, labels: cfg.labels, labelFont: cfg.labelFont, labelBox: cfg.labelBox, latMajor: cfg.latMajor, latMinor: cfg.latMinor}
			}
		},
		plugins: [panelPlugin]
	});
}

function makeBar(id, cfg){
	const canvas = document.getElementById(id);
	const pad = 2;
	const levels = cfg.levels, colors = cfg.colors;
	const n = levels.length;
	const sets = [];
	for (let i = 0; i < n - 1; i++){
		const lo = levels[i], hi = levels[i + 1];
		sets.push({data: toXY([[0,lo],[1,lo],[1,hi],[0,hi],[0,lo]]), backgroundColor: colors[i + 1], borderColor: '#000', borderWidth: 1.3, fill: 'shape'});
	}
	sets.push({data: toXY([[0,levels[n-1]],[1,levels[n-1]],[0.5,cfg.max],[0,levels[n-1]]]), backgroundColor: colors[n], borderColor: '#000', borderWidth: 0.8, fill: 'shape'});
	sets.push({data: toXY([[0,levels[0]],[1,levels[0]],[0.5,cfg.min],[0,levels[0]]]), backgroundColor: colors[0], borderColor: '#000', borderWidth: 0.8, fill: 'shape'});
	canvas.width = cfg.width + 54;
	canvas.height = cfg.bottom - cfg.top + 2 * pad;
	canvas.style.left = cfg.left + 'px';
	canvas.style.top = (cfg.top - pad) + 'px';
	new Chart(canvas, {
		type: 'scatter',
		data: {datasets: sets},
		options: {
			responsive: false, animation: false, events: [],
			layout: {padding: {top: pad, bottom: pad, left: 0, right: 0}},
			datasets: {scatter: {showLine: true, pointRadius: 0, clip: false}},
			scales: {
				x: {type: 'linear', min: 0, max: 1, display: false},
				y: {
					type: 'linear', position: 'right', min: cfg.min, max: cfg.max,
					grid: {display: false, drawTicks: false}, border: {display: false},
					ticks: {padding: 10, autoSkip: false, color: '#000', font: {family: 'Liberation Sans', size: 17}, callback: v => cfg.labels[String(v)] || ''},
					afterBuildTicks: s => { s.ticks = Object.keys(cfg.labels).map(v => ({value: Number(v)})); },
					afterFit: s => { s.width = 54; s.paddingTop = 0; s.paddingBottom = 0; }
				}
			},
			plugins: {legend: {display: false}, tooltip: {enabled: false}}
		},
		plugins: [{id: 'spacing', beforeDraw(chart){ chart.ctx.letterSpacing = '0.5px'; }}]
	});
}

const everyTen = [70,60,50,40,30,20,10,0,-10,-20,-30,-40,-50,-60,-70];

makePanel('panelA', {
	left: 138, right: 729, top: 48, bottom: 288, latMin: -74.3, latMax: 74.3,
	base: tColors[8], sets: aRegions.map(regionSet), labels: aLabels,
	labelFont: '18px "Liberation Sans"', labelBox: 8,
	hours: hoursAB, latTicks: latTicksAB, latNames: latNamesAB, latMajor: latTicksAB, latMinor: everyTen
});
makePanel('panelB', {
	left: 135, right: 727, top: 441, bottom: 681, latMin: -74.3, latMax: 74.3,
	base: tColors[8], sets: bRegions.map(regionSet), labels: bLabels,
	labelFont: '19px "Liberation Sans"', labelBox: 9,
	hours: hoursAB, latTicks: latTicksAB, latNames: latNamesAB, latMajor: latTicksAB, latMinor: everyTen
});
makePanel('panelC', {
	left: 129, right: 724, top: 829, bottom: 1068, latMin: -50, latMax: 50,
	base: '#ffffff', sets: cShades.map(shadeSet).concat(cLines.map(contourSet)), labels: cLabels,
	labelFont: '19.5px "Liberation Sans"', labelBox: 9,
	hours: hoursC, latTicks: latTicksC, latNames: latNamesC, latMajor: latTicksC, latMinor: [40,30,20,10,0,-10,-20,-30,-40]
});
makeBar('barA', {left: 744, width: 16.5, top: 13, bottom: 324, min: -3.113, max: 3.113, levels: tLevels, colors: tColors, labels: tBarLabels});
makeBar('barB', {left: 742, width: 16.5, top: 405, bottom: 718, min: -3.13, max: 3.13, levels: tLevels, colors: tColors, labels: tBarLabels});
makeBar('barC', {left: 739, width: 16.5, top: 793, bottom: 1105, min: -15.65, max: 15.65, levels: vLevels, colors: vColors, labels: vBarLabels});
</script>
</body>
</html>
